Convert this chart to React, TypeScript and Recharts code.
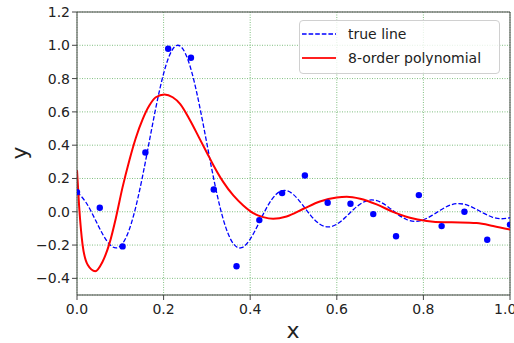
import { ComposedChart, Line, Scatter, XAxis, YAxis, CartesianGrid, ReferenceLine, Legend, Label } from 'recharts';

// dashed "true line", every 0.02
const trueX = [
  0, 0.02, 0.04, 0.06, 0.08, 0.1, 0.12, 0.14, 0.16, 0.18, 0.2, 0.22, 0.24, 0.26, 0.28, 0.3, 0.32,
  0.34, 0.36, 0.38, 0.4, 0.42, 0.44, 0.46, 0.48, 0.5, 0.52, 0.54, 0.56, 0.58, 0.6, 0.62, 0.64,
  0.66, 0.68, 0.7, 0.72, 0.74, 0.76, 0.78, 0.8, 0.82, 0.84, 0.86, 0.88, 0.9, 0.92, 0.94, 0.96,
  0.98, 1.0,
];
const trueY = [
  0.118, 0.059, -0.036, -0.138, -0.207, -0.206, -0.112, 0.075, 0.327, 0.598, 0.83, 0.973, 0.992,
  0.884, 0.674, 0.409, 0.145, -0.065, -0.188, -0.216, -0.164, -0.068, 0.034, 0.105, 0.128, 0.103,
  0.044, -0.023, -0.073, -0.091, -0.075, -0.033, 0.017, 0.056, 0.071, 0.059, 0.026, -0.014,
  -0.045, -0.058, -0.048, -0.022, 0.011, 0.038, 0.049, 0.041, 0.018, -0.01, -0.033, -0.042,
  -0.036,
];

// fitted 8-order polynomial
const polyX = [
  0, 0.005, 0.013, 0.025, 0.042, 0.059, 0.075, 0.09, 0.105, 0.121, 0.136, 0.152, 0.167, 0.182,
  0.202, 0.221, 0.238, 0.261, 0.284, 0.3, 0.315, 0.338, 0.361, 0.384, 0.407, 0.43, 0.453, 0.484,
  0.523, 0.561, 0.6, 0.623, 0.654, 0.692, 0.731, 0.769, 0.808, 0.846, 0.885, 0.923, 0.961, 1.0,
];
const polyY = [
  0.25, 0.03, -0.2, -0.32, -0.357, -0.3, -0.19, -0.035, 0.145, 0.31, 0.445, 0.558, 0.638, 0.688,
  0.705, 0.688, 0.648, 0.55, 0.435, 0.355, 0.28, 0.178, 0.098, 0.038, -0.008, -0.032, -0.042,
  -0.028, 0.018, 0.062, 0.086, 0.09, 0.078, 0.044, -0.002, -0.036, -0.055, -0.063, -0.064,
  -0.068, -0.085, -0.107,
];

// noisy samples
const sampleX = [
  0, 0.0526, 0.1053, 0.1579, 0.2105, 0.2632, 0.3158, 0.3684, 0.4211, 0.4737, 0.5263, 0.5789,
  0.6316, 0.6842, 0.7368, 0.7895, 0.8421, 0.8947, 0.9474, 1.0,
];
const sampleY = [
  0.118, 0.024, -0.208, 0.356, 0.979, 0.925, 0.134, -0.327, -0.05, 0.112, 0.218, 0.054, 0.048,
  -0.014, -0.147, 0.1, -0.086, 0.0, -0.168, -0.077,
];

const xTicks = [0, 0.2, 0.4, 0.6, 0.8, 1.0];
const yTicks = [-0.4, -0.2, 0, 0.2, 0.4, 0.6, 0.8, 1.0, 1.2];

const FONT = '"DejaVu Sans", sans-serif';

const fmt = (v: number) => v.toFixed(1).replace('-', '\u2212');

const trueData = trueX.map((x, i) => ({ x, y: trueY[i] }));
const polyData = polyX.map((x, i) => ({ x, y: polyY[i] }));
const sampleData = sampleX.map((x, i) => ({ x, y: sampleY[i] }));

function LegendBox() {
  const row = { display: 'flex', alignItems: 'center', height: 24 };
  return (
    <div
      style={{
        border: '1px solid #d0d0d0',
        borderRadius: 4,
        background: 'rgba(255,255,255,0.8)',
        padding: '1px 6px 3px 2px',
        fontFamily: FONT,
        fontSize: 14,
        color: '#222',
        boxSizing: 'border-box',
      }}
    >
      <div style={row}>
        <svg width={34} height={10} style={{ marginRight: 12 }}>
          <line x1={0} y1={5} x2={34} y2={5} stroke="#0000ff" strokeWidth={1.3} strokeDasharray="4.6 2" />
        </svg>
        <span>true line</span>
      </div>
      <div style={row}>
        <svg width={34} height={10} style={{ marginRight: 12 }}>
          <line x1={0} y1={5} x2={34} y2={5} stroke="#ff2020" strokeWidth={2} />
        </svg>
        <span>8-order polynomial</span>
      </div>
    </div>
  );
}

const Dot = (props: any) => <circle cx={props.cx} cy={props.cy} r={3.2} fill="#0000ff" />;

export default function App() {
  return (
    <div style={{ position: 'absolute', left: 0, top: 0, width: 514, height: 343, background: '#fff' }}>
      <ComposedChart width={514} height={343} margin={{ top: 12, right: 4, bottom: 0, left: 0 }}>
        <CartesianGrid stroke="#5fae5f" strokeDasharray="1 1.5" strokeWidth={0.8} horizontalPoints={undefined} />
        <XAxis
          dataKey="x"
          type="number"
          domain={[0, 1]}
          ticks={xTicks}
          tickFormatter={fmt}
          height={48}
          tickSize={5}
          tickMargin={4}
          stroke="#444"
          tick={{ fill: '#222', fontSize: 14, fontFamily: FONT }}
          allowDataOverflow
        >
          <Label
            content={() => (
              <text x={293} y={338} textAnchor="middle" fontFamily={FONT} fontSize={22} fill="#222">
                x
              </text>
            )}
          />
        </XAxis>
        <YAxis
          dataKey="y"
          type="number"
          domain={[-0.5, 1.2]}
          ticks={yTicks}
          tickFormatter={fmt}
          width={77}
          tickSize={5}
          tickMargin={2}
          stroke="#444"
          tick={{ fill: '#222', fontSize: 14, fontFamily: FONT }}
          allowDataOverflow
        >
          <Label
            content={() => (
              <text
                x={27}
                y={153}
                transform="rotate(-90 27 153)"
                textAnchor="middle"
                fontFamily={FONT}
                fontSize={22}
                fill="#222"
              >
                y
              </text>
            )}
          />
        </YAxis>
        <ReferenceLine y={1.2} stroke="#444" />
        <ReferenceLine x={1} stroke="#444" />
        <Line
          data={trueData}
          dataKey="y"
          type="natural"
          stroke="#0000ff"
          strokeWidth={1.3}
          strokeDasharray="4.6 2"
          dot={false}
          activeDot={false}
          isAnimationActive={false}
        />
        <Line
          data={polyData}
          dataKey="y"
          type="monotone"
          stroke="#ff0000"
          strokeWidth={2}
          dot={false}
          activeDot={false}
          isAnimationActive={false}
        />
        <Scatter data={sampleData} dataKey="y" shape={Dot} isAnimationActive={false} />
        <Legend
          layout="vertical"
          align="center"
          verticalAlign="middle"
          content={() => <LegendBox />}
          wrapperStyle={{ top: 20, left: 299, width: 201 }}
        />
      </ComposedChart>
    </div>
  );
}
